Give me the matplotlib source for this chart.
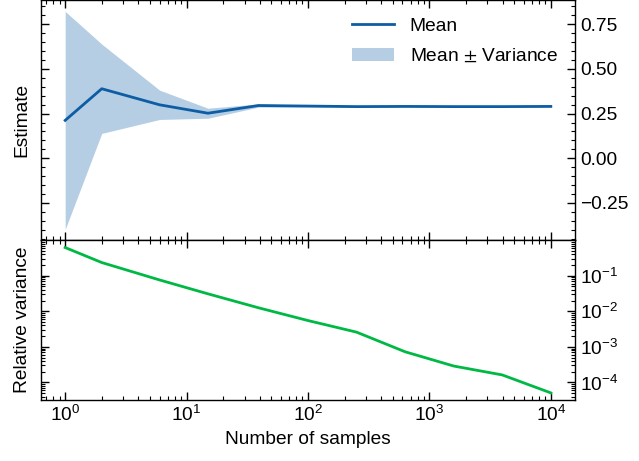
import matplotlib
matplotlib.use('Agg')
import matplotlib.pyplot as plt
import numpy as np

# sample counts (logspace cast to int)
n_samples = [1, 2, 6, 15, 39, 100, 251, 630, 1584, 3981, 10000]
mean_est = [0.212, 0.389, 0.299, 0.252, 0.295, 0.292, 0.289, 0.290, 0.289, 0.289, 0.290]
variance = [0.61, 0.25, 0.082, 0.028, 0.009, 0.005, 0.0025, 0.0007, 0.0003, 0.00016, 0.00005]
rel_variance = [0.62, 0.235, 0.076, 0.031, 0.0126, 0.0055, 0.0026, 0.00073, 0.00029, 0.000163, 0.000051]

plt.rcParams['font.family'] = ['Liberation Sans', 'DejaVu Sans']
plt.rcParams['font.size'] = 13.8
plt.rcParams['mathtext.fontset'] = 'custom'
plt.rcParams['mathtext.rm'] = 'Liberation Sans'
plt.rcParams['mathtext.it'] = 'Liberation Sans:italic'
plt.rcParams['axes.linewidth'] = 1.0
for ax_ in ['xtick', 'ytick']:
    plt.rcParams[ax_ + '.direction'] = 'in'
    plt.rcParams[ax_ + '.major.size'] = 6
    plt.rcParams[ax_ + '.minor.size'] = 3
    plt.rcParams[ax_ + '.major.width'] = 1.0
    plt.rcParams[ax_ + '.minor.width'] = 0.8
    plt.rcParams[ax_ + '.minor.visible'] = True
plt.rcParams['xtick.top'] = True
plt.rcParams['ytick.right'] = True

fig, (ax1, ax2) = plt.subplots(2, 1, sharex=True, figsize=(6.39, 4.61), dpi=100,
                               gridspec_kw={'height_ratios': [3, 2]})
fig.subplots_adjust(left=0.064, right=0.9, top=0.999, bottom=0.132, hspace=0)

x = np.array(n_samples)
m = np.array(mean_est)
v = np.array(variance)

ax1.plot(x, m, color='#0C5DA5', lw=2, label='Mean')
ax1.fill_between(x, m - v, m + v, color='#0C5DA5', alpha=0.3, lw=0,
                 label=r'Mean $\pm$ Variance')
ax1.set_xscale('log')
ax1.set_ylabel('Estimate')
ax1.yaxis.set_major_locator(matplotlib.ticker.MultipleLocator(0.25))
ax1.yaxis.set_minor_locator(matplotlib.ticker.MultipleLocator(0.05))
ax1.tick_params(labelleft=False, labelright=True)
leg = ax1.legend(loc='upper right', frameon=False, handlelength=2.2, labelspacing=0.65)
leg.get_texts()[1].set_math_fontfamily('stixsans')

ax2.plot(x, rel_variance, color='#00B945', lw=2)
ax2.set_yscale('log')
ax2.set_xscale('log')
ax2.set_ylabel('Relative variance')
ax2.set_xlabel('Number of samples')
ax2.tick_params(labelleft=False, labelright=True)
ax2.yaxis.set_major_locator(matplotlib.ticker.FixedLocator([1e-4, 1e-3, 1e-2, 1e-1]))

fig.savefig('out.png', dpi=100)
